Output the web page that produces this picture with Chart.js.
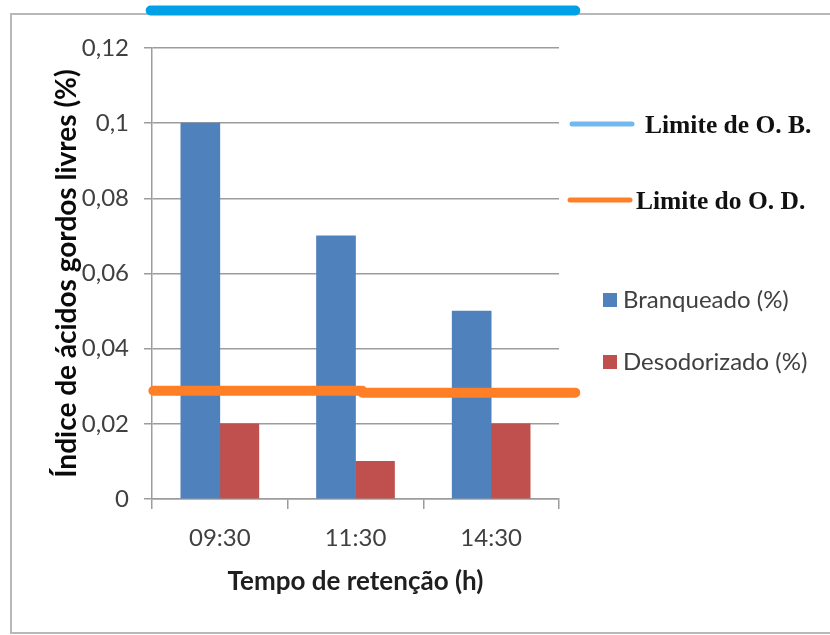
<!DOCTYPE html>
<html>
<head>
<meta charset="utf-8">
<title>Índice de ácidos gordos livres</title>
<script src="https://cdn.jsdelivr.net/npm/chart.js@4/dist/chart.umd.min.js"></script>
<style>
  html, body { margin: 0; padding: 0; background: #ffffff; }
  #wrap { width: 830px; height: 635px; }
</style>
</head>
<body>
<div id="wrap"><canvas id="c" width="830" height="635"></canvas></div>
<script>
// Retention times and measured free fatty acid index (%)
const categories = ['09:30', '11:30', '14:30'];
const branqueado = [0.10, 0.07, 0.05];
const desodorizado = [0.02, 0.01, 0.02];
const yTickLabels = ['0', '0,02', '0,04', '0,06', '0,08', '0,1', '0,12'];

// Limit lines: x in category units (the axis spans -0.5 .. 2.5), y in %
const limiteOBx = [-0.51, 2.62];
const limiteOBy = [0.13, 0.13];
const limiteODx = [-0.49, 1.05, 1.05, 2.62];
const limiteODy = [0.0288, 0.0288, 0.0283, 0.0283];

const toPoints = (xs, ys) => xs.map((x, i) => ({ x: x, y: ys[i] }));

const SANS = 'Lato, "Open Sans", sans-serif';
const SERIF = '"Liberation Serif", "DejaVu Serif", serif';
const GRID = '#9c9c9c';

// White page with the grey frame around the chart
const framePlugin = {
  id: 'frame',
  beforeDraw(chart) {
    const ctx = chart.ctx;
    ctx.save();
    ctx.fillStyle = '#ffffff';
    ctx.fillRect(0, 0, chart.width, chart.height);
    ctx.strokeStyle = '#b8b8b8';
    ctx.lineWidth = 2;
    ctx.beginPath();
    ctx.moveTo(chart.width, 14);
    ctx.lineTo(11, 14);
    ctx.lineTo(11, chart.height - 2);
    ctx.lineTo(chart.width, chart.height - 2);
    ctx.stroke();
    ctx.restore();
  }
};

// Legend drawn to the right of the plot, one entry per dataset
const sideLegend = {
  id: 'sideLegend',
  afterDraw(chart) {
    const ctx = chart.ctx;
    const slots = {
      'Limite de O. B.': { sx: 572, sy: 124, tx: 645 },
      'Limite do O. D.': { sx: 570, sy: 200, tx: 636 },
      'Branqueado (%)': { sx: 603, sy: 300, tx: 623 },
      'Desodorizado (%)': { sx: 603, sy: 362, tx: 623 }
    };
    ctx.save();
    chart.data.datasets.forEach(ds => {
      const s = slots[ds.label];
      if (!s) return;
      if (ds.type === 'line') {
        ctx.strokeStyle = ds.legendColor || ds.borderColor;
        ctx.lineWidth = 5;
        ctx.lineCap = 'round';
        ctx.beginPath();
        ctx.moveTo(s.sx, s.sy);
        ctx.lineTo(s.sx + 60, s.sy);
        ctx.stroke();
        ctx.fillStyle = '#111111';
        ctx.font = 'bold 25.5px ' + SERIF;
        ctx.textBaseline = 'middle';
        ctx.textAlign = 'left';
        ctx.fillText(ds.label, s.tx, s.sy + 2);
      } else {
        ctx.fillStyle = ds.backgroundColor;
        ctx.fillRect(s.sx, s.sy - 7, 14, 14);
        ctx.fillStyle = '#404040';
        ctx.font = '24px ' + SANS;
        ctx.textBaseline = 'middle';
        ctx.textAlign = 'left';
        ctx.fillText(ds.label, s.tx, s.sy);
      }
    });
    ctx.restore();
  }
};

new Chart(document.getElementById('c'), {
  type: 'bar',
  data: {
    labels: categories,
    datasets: [
      {
        type: 'line',
        label: 'Limite de O. B.',
        data: toPoints(limiteOBx, limiteOBy),
        xAxisID: 'xLim',
        borderColor: '#00a1e6',
        legendColor: '#72b8ee',
        borderWidth: 10,
        borderCapStyle: 'round',
        borderJoinStyle: 'round',
        pointRadius: 0,
        clip: false,
        order: 0
      },
      {
        type: 'line',
        label: 'Limite do O. D.',
        data: toPoints(limiteODx, limiteODy),
        xAxisID: 'xLim',
        borderColor: '#ff7f27',
        borderWidth: 10,
        borderCapStyle: 'round',
        borderJoinStyle: 'round',
        pointRadius: 0,
        clip: false,
        order: 0
      },
      {
        label: 'Branqueado (%)',
        data: branqueado,
        backgroundColor: '#4f81bd',
        barThickness: 39,
        order: 1
      },
      {
        label: 'Desodorizado (%)',
        data: desodorizado,
        backgroundColor: '#c0504d',
        barThickness: 39,
        order: 1
      }
    ]
  },
  options: {
    responsive: false,
    animation: false,
    devicePixelRatio: 1,
    layout: { padding: { top: 48, right: 271, bottom: 0, left: 0 } },
    plugins: {
      legend: { display: false },
      tooltip: { enabled: false }
    },
    scales: {
      x: {
        type: 'category',
        offset: true,
        grid: { drawOnChartArea: false, offset: true, tickLength: 10, color: GRID, lineWidth: 1.5 },
        border: { color: GRID, width: 1.5 },
        ticks: { color: '#404040', font: { family: SANS, size: 24 }, padding: 15 },
        title: {
          display: true,
          text: 'Tempo de retenção (h)',
          color: '#1f1f1f',
          font: { family: SANS, size: 26, weight: 'bold' },
          padding: { top: 0, bottom: 38 }
        },
        afterFit(scale) { scale.height = 136; }
      },
      xLim: { type: 'linear', display: false, offset: false, grid: { offset: false }, min: -0.5, max: 2.5 },
      y: {
        min: 0,
        max: 0.12,
        grid: { tickLength: 8, color: GRID, lineWidth: 1.5 },
        border: { color: GRID, width: 1.5 },
        ticks: {
          stepSize: 0.02,
          color: '#404040',
          font: { family: SANS, size: 24 },
          padding: 15,
          callback: (v, i) => yTickLabels[i]
        },
        title: {
          display: true,
          text: 'Índice de ácidos gordos livres (%)',
          color: '#0a0a0a',
          font: { family: SANS, size: 28, weight: 'bold' },
          padding: { top: 50, bottom: 0 }
        },
        afterFit(scale) { scale.width = 152; }
      }
    }
  },
  plugins: [framePlugin, sideLegend]
});
</script>
</body>
</html>
